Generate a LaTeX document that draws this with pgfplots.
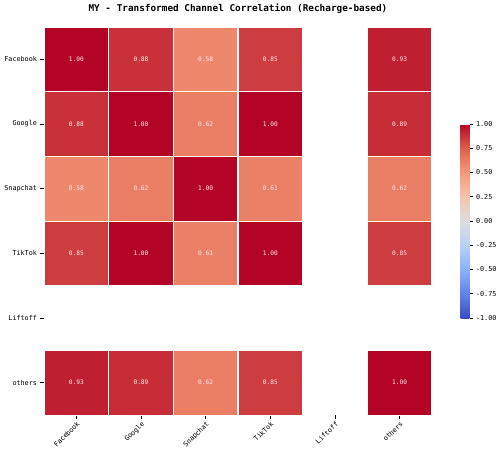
\documentclass[border=0pt]{standalone}
\usepackage{pgfplots}
\pgfplotsset{compat=1.18}
\usepackage{fontspec}
\setmainfont{DejaVu Sans Mono}
\pgfplotstableread{
x y v
0 0 1.00
1 0 0.88
2 0 0.58
3 0 0.85
5 0 0.93
0 1 0.88
1 1 1.00
2 1 0.62
3 1 1.00
5 1 0.89
0 2 0.58
1 2 0.62
2 2 1.00
3 2 0.61
5 2 0.62
0 3 0.85
1 3 1.00
2 3 0.61
3 3 1.00
5 3 0.85
0 5 0.93
1 5 0.89
2 5 0.62
3 5 0.85
5 5 1.00
}\corrdata
\begin{document}
\begin{tikzpicture}
\path[use as bounding box] (-44bp,-40bp) rectangle (456bp,415bp);
\begin{axis}[
  at={(0,0)}, anchor=south west,
  scale only axis, width=388bp, height=388bp,
  xmin=-0.5, xmax=5.5, ymin=-0.5, ymax=5.5,
  y dir=reverse,
  axis line style={draw=none},
  tick align=outside, tick pos=left,
  major tick length=3.5bp,
  tick style={black, line width=0.6bp},
  xtick={0,1,2,3,4,5}, ytick={0,1,2,3,4,5},
  xticklabels={Facebook,Google,Snapchat,TikTok,Liftoff,others},
  yticklabels={Facebook,Google,Snapchat,TikTok,Liftoff,others},
  x tick label style={rotate=45, anchor=north east, inner sep=1.5bp, font=\fontsize{6.8}{8}\selectfont},
  y tick label style={font=\fontsize{6.8}{8}\selectfont},
  title={\bfseries MY - Transformed Channel Correlation (Recharge-based)},
  title style={font=\fontsize{9.4}{11}\selectfont, at={(0.5,1)}, anchor=base, yshift=10bp},
  /pgf/number format/assume math mode=true,
  colormap={coolwarm}{rgb255(0cm)=(59,76,192) rgb255(1cm)=(98,130,234) rgb255(2cm)=(141,176,254) rgb255(3cm)=(184,208,249) rgb255(4cm)=(221,221,221) rgb255(5cm)=(245,196,173) rgb255(6cm)=(244,154,123) rgb255(7cm)=(222,96,77) rgb255(8cm)=(180,4,38)},
  point meta min=-1, point meta max=1,
  colorbar right,
  colorbar style={
    at={(parent axis.east)}, anchor=west, xshift=20bp,
    width=9bp, height=194bp,
    axis line style={draw=none},
    ytick pos=right,
    ytick={-1,-0.75,-0.5,-0.25,0,0.25,0.5,0.75,1},
    yticklabel style={font=\fontsize{6.8}{8}\selectfont, /pgf/number format/.cd, fixed, fixed zerofill, precision=2, assume math mode=true},
    major tick length=3bp,
    tick align=outside,
    tick style={black, line width=0.6bp},
  },
]
\addplot[
  only marks, mark=square*, mark size=32.33bp,
  point meta=explicit,
  scatter,
  scatter/@pre marker code/.code={%
    \pgfplotscolormapdefinemappedcolor{\pgfplotspointmetatransformed}%
    \pgfsetfillcolor{mapped color}\pgfsetstrokecolor{white}\pgfsetlinewidth{1bp}%
  },
  scatter/@post marker code/.code={},
] table[meta=v] {\corrdata};
\addplot[
  only marks, mark=none,
  point meta=explicit,
  nodes near coords={\pgfmathprintnumber[fixed,fixed zerofill,precision=2,assume math mode=true]{\pgfplotspointmeta}},
  nodes near coords align={center},
  every node near coord/.append style={font=\fontsize{6.2}{7}\selectfont, text=white!92!red, anchor=center},
] table[meta=v] {\corrdata};
\end{axis}
\end{tikzpicture}
\end{document}
